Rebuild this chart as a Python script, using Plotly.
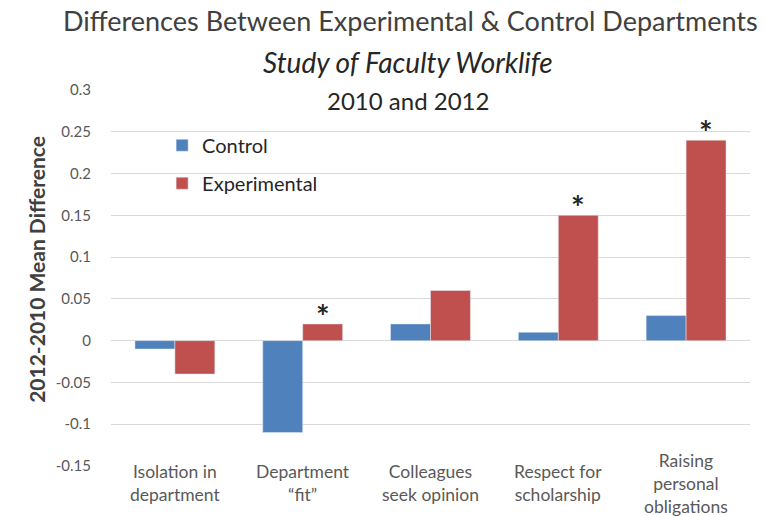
import plotly.graph_objects as go

categories = ["Isolation in<br>department", "Department<br>\u201cfit\u201d", "Colleagues<br>seek opinion",
              "Respect for<br>scholarship", "Raising<br>personal<br>obligations"]
control = [-0.01, -0.11, 0.02, 0.01, 0.03]
experimental = [-0.04, 0.02, 0.06, 0.15, 0.24]
significant = [False, True, False, True, True]
yticks = [-0.15, -0.1, -0.05, 0, 0.05, 0.1, 0.15, 0.2, 0.25, 0.3]
ytick_labels = ["-0.15", "-0.1", "-0.05", "0", "0.05", "0.1", "0.15", "0.2", "0.25", "0.3"]

FONT = "Lato"
GRAY = "#595959"
BLUE = "#4F81BD"
RED = "#C0504D"

xs = list(range(len(categories)))

fig = go.Figure()
fig.add_trace(go.Bar(x=xs, y=control, name="Control", marker_color=BLUE,
                     legendgroup="c"))
fig.add_trace(go.Bar(x=xs, y=experimental, name="Experimental", marker_color=RED,
                     legendgroup="e"))

annotations = []
for i, s in enumerate(significant):
    if s:
        annotations.append(dict(x=xs[i], y=experimental[i], xref="x", yref="y",
                                text="<b>*</b>", showarrow=False, xshift=20, yshift=-14,
                                yanchor="bottom", font=dict(size=32, color="#262626", family=FONT)))
for i, c in enumerate(categories):
    annotations.append(dict(x=xs[i], y=-0.046, xref="x", yref="paper", text=c,
                            showarrow=False, yanchor="middle", align="center",
                            font=dict(size=17.5, color=GRAY, family=FONT)))

annotations += [
    dict(x=0.468, y=1.186, xref="paper", yref="paper", showarrow=False, yanchor="middle",
         text="Differences Between Experimental &amp; Control Departments",
         font=dict(size=27, color="#404040", family=FONT)),
    dict(x=0.465, y=1.074, xref="paper", yref="paper", showarrow=False, yanchor="middle",
         text="<i>Study of Faculty Worklife</i>",
         font=dict(size=28, color="#262626", family=FONT)),
    dict(x=0.465, y=0.973, xref="paper", yref="paper", showarrow=False, yanchor="middle",
         text="2010 and 2012",
         font=dict(size=24, color="#262626", family=FONT)),
    dict(x=-0.116, y=0.524, xref="paper", yref="paper", showarrow=False, textangle=-90,
         xanchor="center", yanchor="middle",
         text="<b>2012-2010 Mean Difference</b>",
         font=dict(size=21, color="#404040", family=FONT)),
]

fig.update_layout(
    width=764, height=516,
    margin=dict(l=111, r=14, t=90, b=50),
    paper_bgcolor="white", plot_bgcolor="white",
    barmode="group", bargap=0.375, bargroupgap=0,
    font=dict(family=FONT, color=GRAY),
    showlegend=True,
    legend=dict(x=0.08, y=0.905, xanchor="left", yanchor="top",
                font=dict(size=20, color="#262626", family=FONT),
                tracegroupgap=9, bgcolor="rgba(0,0,0,0)", itemwidth=30),
    annotations=annotations,
    xaxis=dict(range=[-0.5, len(categories) - 0.5], showticklabels=False,
               showgrid=False, zeroline=False, showline=False, ticks=""),
    yaxis=dict(range=[-0.15, 0.3], tickvals=yticks, ticktext=ytick_labels,
               showgrid=True, gridcolor="#d9d9d9", gridwidth=1,
               zeroline=True, zerolinecolor="#d9d9d9", zerolinewidth=1,
               showline=False, ticks="", ticklabelstandoff=19,
               tickfont=dict(size=15, color=GRAY, family=FONT)),
)

fig.write_html("out.html")
